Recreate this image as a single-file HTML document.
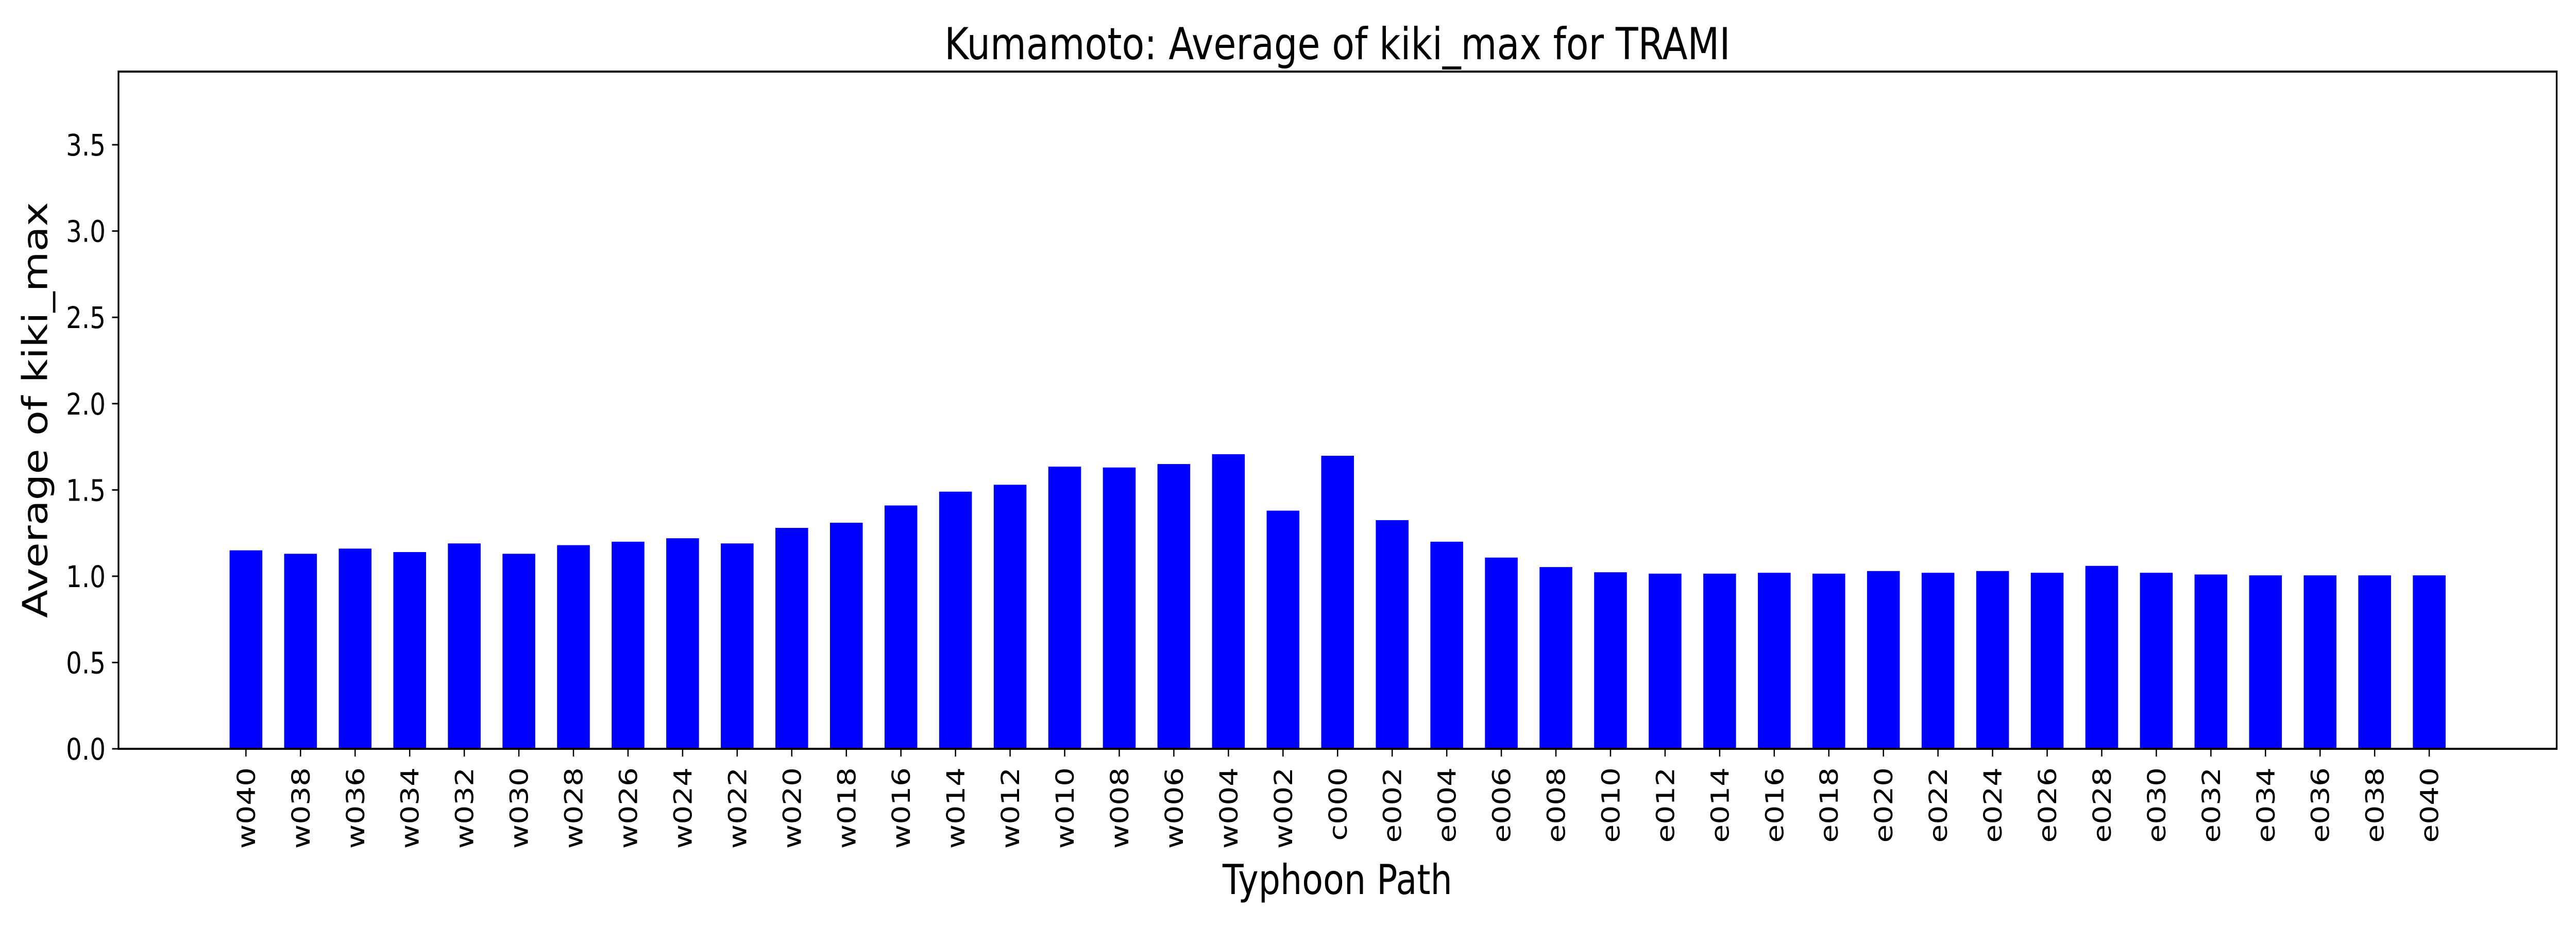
<!DOCTYPE html>
<html><head><meta charset="utf-8"><style>
html,body{margin:0;padding:0;background:#fff;overflow:hidden;width:100%;height:100%;}
svg{display:block;position:fixed;left:0;top:0;width:100vw;height:100vh;font-family:"DejaVu Sans","Liberation Sans",sans-serif;}
</style></head><body>
<svg id="chart" viewBox="0 0 6000 1800" preserveAspectRatio="none" xmlns="http://www.w3.org/2000/svg">
<rect x="0" y="0" width="6000" height="1800" fill="#fff"/>
<text x="3115" y="115" font-size="86" text-anchor="middle">Kumamoto: Average of kiki_max for TRAMI</text>
<text x="3115" y="1736" font-size="80" text-anchor="middle">Typhoon Path</text>
<text transform="translate(110,796) rotate(-90)" font-size="80" text-anchor="middle">Average of kiki_max</text>
<g id="bars"></g>
<g id="xticks"></g>
<g id="yticks"></g>
<rect x="276" y="139" width="5679" height="1315" fill="none" stroke="#000" stroke-width="4"/>
</svg>
<script>
const categories = ["w040","w038","w036","w034","w032","w030","w028","w026","w024","w022","w020","w018","w016","w014","w012","w010","w008","w006","w004","w002","c000","e002","e004","e006","e008","e010","e012","e014","e016","e018","e020","e022","e024","e026","e028","e030","e032","e034","e036","e038","e040"];
const values = [1.15,1.13,1.16,1.14,1.19,1.13,1.18,1.20,1.22,1.19,1.28,1.31,1.41,1.49,1.53,1.635,1.63,1.65,1.707,1.38,1.698,1.325,1.20,1.108,1.053,1.023,1.015,1.015,1.02,1.015,1.03,1.02,1.03,1.02,1.06,1.02,1.01,1.005,1.005,1.005,1.005];
const yTicks = [0,0.5,1.0,1.5,2.0,2.5,3.0,3.5];
const yTickLabels = ["0.0","0.5","1.0","1.5","2.0","2.5","3.0","3.5"];

const NS = "http://www.w3.org/2000/svg";
const L = 276, R = 5955, T = 139, B = 1454;
const xMin = -2.335, xMax = categories.length - 1 + 2.335;
const yMin = 0, yMax = 3.924;
function xScale(i){ return L + (i - xMin) / (xMax - xMin) * (R - L); }
function yScale(v){ return B - (v - yMin) / (yMax - yMin) * (B - T); }
const bw = 0.6 * (xScale(1) - xScale(0));

const bars = document.getElementById('bars');
const xt = document.getElementById('xticks');
const yt = document.getElementById('yticks');

categories.forEach((c, i) => {
  const x = xScale(i);
  const r = document.createElementNS(NS, 'rect');
  
  
  r.setAttribute('x', x - bw / 2);
  r.setAttribute('y', yScale(values[i]));
  r.setAttribute('width', bw);
  r.setAttribute('height', yScale(0) - yScale(values[i]));
  r.setAttribute('fill', '#0000ff');
  bars.appendChild(r);

  const tk = document.createElementNS(NS, 'line');
  
  
  tk.setAttribute('x1', x); tk.setAttribute('x2', x);
  tk.setAttribute('y1', B); tk.setAttribute('y2', B + 15);
  tk.setAttribute('stroke', '#000'); tk.setAttribute('stroke-width', '3');
  xt.appendChild(tk);

  const t = document.createElementNS(NS, 'text');
  
  
  t.setAttribute('font-size', '58');
  t.setAttribute('text-anchor', 'end');
  t.setAttribute('transform', 'translate(' + (x + 21) + ',' + (B + 36) + ') rotate(-90)');
  t.textContent = c;
  xt.appendChild(t);
});

yTicks.forEach((v, i) => {
  const y = yScale(v);
  const tk = document.createElementNS(NS, 'line');
  
  
  tk.setAttribute('x1', L - 15); tk.setAttribute('x2', L);
  tk.setAttribute('y1', y); tk.setAttribute('y2', y);
  tk.setAttribute('stroke', '#000'); tk.setAttribute('stroke-width', '3');
  yt.appendChild(tk);

  const t = document.createElementNS(NS, 'text');
  
  
  t.setAttribute('font-size', '58');
  t.setAttribute('text-anchor', 'end');
  t.setAttribute('x', L - 30);
  t.setAttribute('y', y + 21);
  t.textContent = yTickLabels[i];
  yt.appendChild(t);
});
</script>
</body></html>
